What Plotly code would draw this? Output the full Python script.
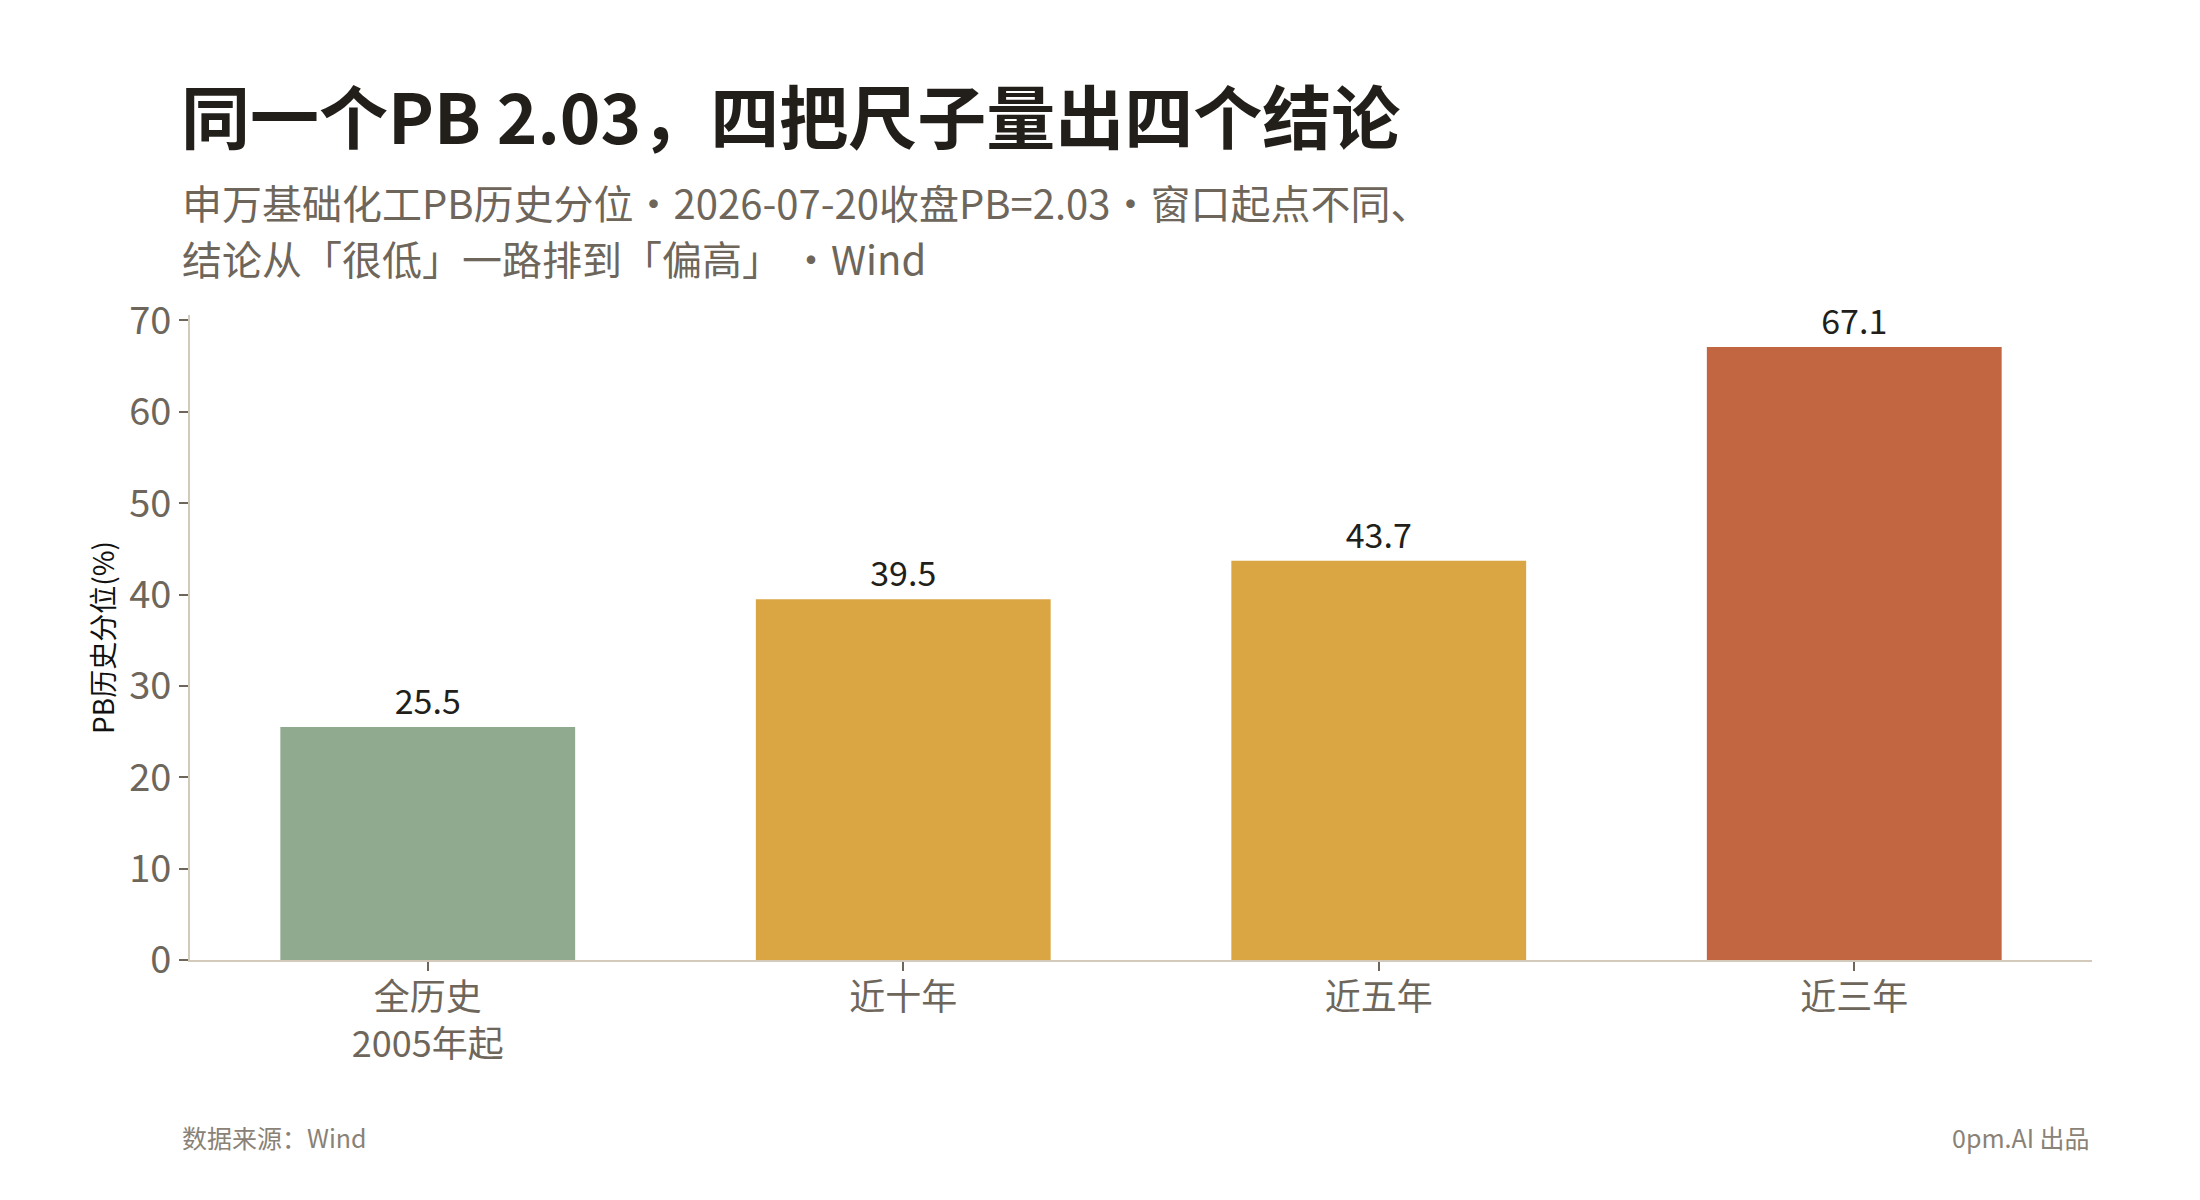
import plotly.graph_objects as go

# PB percentile by look-back window
windows = ["全历史<br>2005年起", "近十年", "近五年", "近三年"]
pct = [25.5, 39.5, 43.7, 67.1]
bar_colors = ["#8FAA8E", "#DAA543", "#DAA543", "#C16640"]

title = "同一个PB 2.03，四把尺子量出四个结论"
sub_1 = "申万基础化工PB历史分位・2026-07-20收盘PB=2.03・窗口起点不同、"
sub_2 = "结论从「很低」一路排到「偏高」 ・Wind"
source = "数据来源：Wind"
credit = "0pm.AI 出品"

FONT = "Noto Sans CJK SC"
INK = "#221F1A"
GREY = "#6E665B"
AXIS = "#D3CABB"

fig = go.Figure(go.Bar(
    x=windows,
    y=pct,
    marker=dict(color=bar_colors, line=dict(width=0)),
    texttemplate="%{y:.1f}",
    textposition="outside",
    textfont=dict(family=FONT, size=34, color=INK),
    cliponaxis=False,
))

fig.update_layout(
    width=2200,
    height=1200,
    paper_bgcolor="white",
    plot_bgcolor="white",
    font=dict(family=FONT, color=GREY),
    margin=dict(l=182, r=116, t=307, b=248),
    bargap=0.38,
    showlegend=False,
    title=dict(
        text="<b>" + title + "</b>",
        font=dict(family=FONT, size=69, color=INK),
        x=173 / 2200, xanchor="left",
        y=1 - 112 / 1200, yanchor="middle",
    ),
)

fig.update_xaxes(
    showline=True, linecolor=AXIS, linewidth=2,
    ticks="outside", ticklen=9, tickwidth=2, tickcolor=GREY,
    tickfont=dict(family=FONT, size=36, color=GREY),
    ticklabelstandoff=-4,
    showgrid=False,
)
fig.update_yaxes(
    range=[0, 70.6], dtick=10,
    showline=True, linecolor=AXIS, linewidth=2,
    ticks="outside", ticklen=9, tickwidth=2, tickcolor=GREY,
    tickfont=dict(family=FONT, size=38, color=GREY),
    showgrid=False, zeroline=False,
    title=dict(text="PB历史分位(%)", font=dict(family=FONT, size=28, color="#111111"), standoff=6),
)

notes = [
    (sub_1, -0.0053, 1.1752, "left", 40, GREY),
    (sub_2, -0.0053, 1.0884, "left", 40, GREY),
    (source, -0.0053, -0.2744, "left", 25, "#8A8276"),
    (credit, 1, -0.2744, "right", 25, "#8A8276"),
]
for txt, x, y, anchor, size, color in notes:
    fig.add_annotation(
        text=txt, xref="paper", yref="paper", x=x, y=y,
        xanchor=anchor, yanchor="middle", showarrow=False,
        font=dict(family=FONT, size=size, color=color),
    )

fig.write_html("out.html")
